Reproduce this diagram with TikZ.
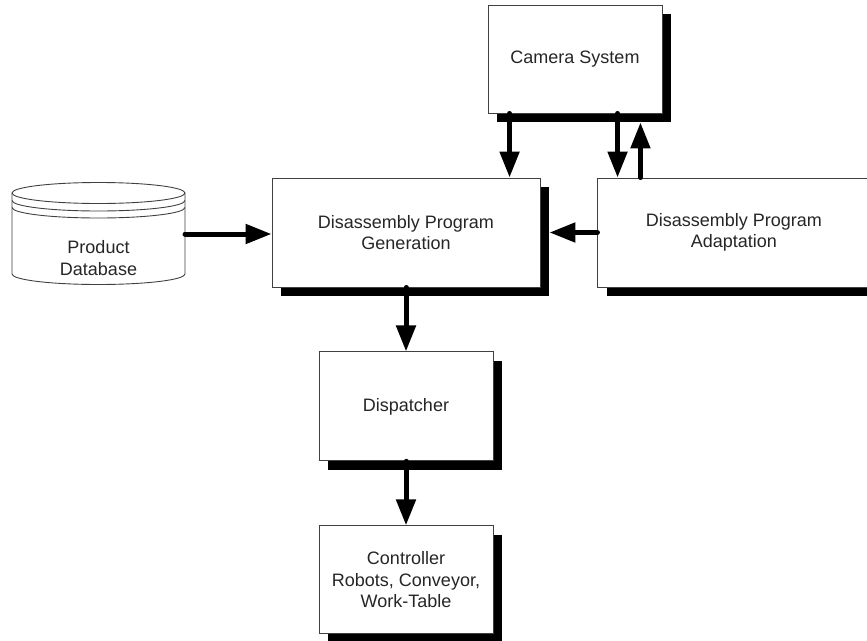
\documentclass[tikz,border=0pt]{standalone}
\usepackage{fontspec}
\setmainfont{Liberation Sans}
\usetikzlibrary{positioning,arrows.meta,shadows}

\begin{document}
\begin{tikzpicture}[x=1pt, y=-1pt,
  box/.style={rectangle, draw=black!75, line width=0.9pt, fill=white, align=center, font=\fontsize{18}{21.5}\selectfont, text=black!85, minimum width=174pt, minimum height=108pt, drop shadow={shadow xshift=9pt, shadow yshift=-9pt, fill=black, opacity=1}},
  flow/.style={line width=5pt, line cap=round, -{Triangle[length=26pt, width=19pt]}}]
\useasboundingbox (0,0) rectangle (867,640);
\clip (0,0) rectangle (867,640);

\node[box, minimum width=268pt, minimum height=109pt] (dpg) at (406,232.5) {Disassembly Program\\Generation};
\node[box] (cam) at (575,59) {Camera System};
\node[box, minimum width=272pt, minimum height=109pt, right=57pt of dpg] (dpa) {Disassembly Program\\Adaptation};
\node[box, minimum height=109pt, below=64pt of dpg] (disp) {Dispatcher};
\node[box, below=64pt of disp] (ctrl) {Controller\\Robots, Conveyor,\\Work-Table};

\node[minimum width=173pt, minimum height=102pt, inner sep=0pt, outer sep=0pt] (db) at (98.5,234) {};
\draw[black!75, line width=0.9pt, fill=white] (12,193) -- (12,274) arc[start angle=180, end angle=0, x radius=86.5, y radius=10.5] -- (185,193);
\draw[black!75, line width=0.9pt] (98.5,193) ellipse[x radius=86.5, y radius=10.5];
\draw[black!75, line width=0.9pt] (12,200.5) arc[start angle=180, end angle=0, x radius=86.5, y radius=10.5];
\draw[black!75, line width=0.9pt] (12,207.5) arc[start angle=180, end angle=0, x radius=86.5, y radius=10.5];
\node[align=center, font=\fontsize{18}{21.5}\selectfont, text=black!85] (dbtext) at (98.5,258) {Product\\Database};

\coordinate (c1) at ([xshift=22pt]cam.south west);
\coordinate (c2) at ([xshift=130pt]cam.south west);
\coordinate (c3) at ([xshift=43pt]dpa.north west);
\coordinate (c4) at ([yshift=-9pt]cam.south);

\draw[flow] (db.east) -- (db.east -| dpg.west);
\draw[flow] (c1) -- (c1 |- dpg.north);
\draw[flow] (c2) -- (c2 |- dpa.north);
\draw[flow] (c3) -- (c3 |- c4);
\draw[flow] (dpa.west) -- ([xshift=9pt]dpg.east);
\draw[flow] (dpg.south) -- (disp.north);
\draw[flow] (disp.south) -- (ctrl.north);
\end{tikzpicture}
\end{document}
